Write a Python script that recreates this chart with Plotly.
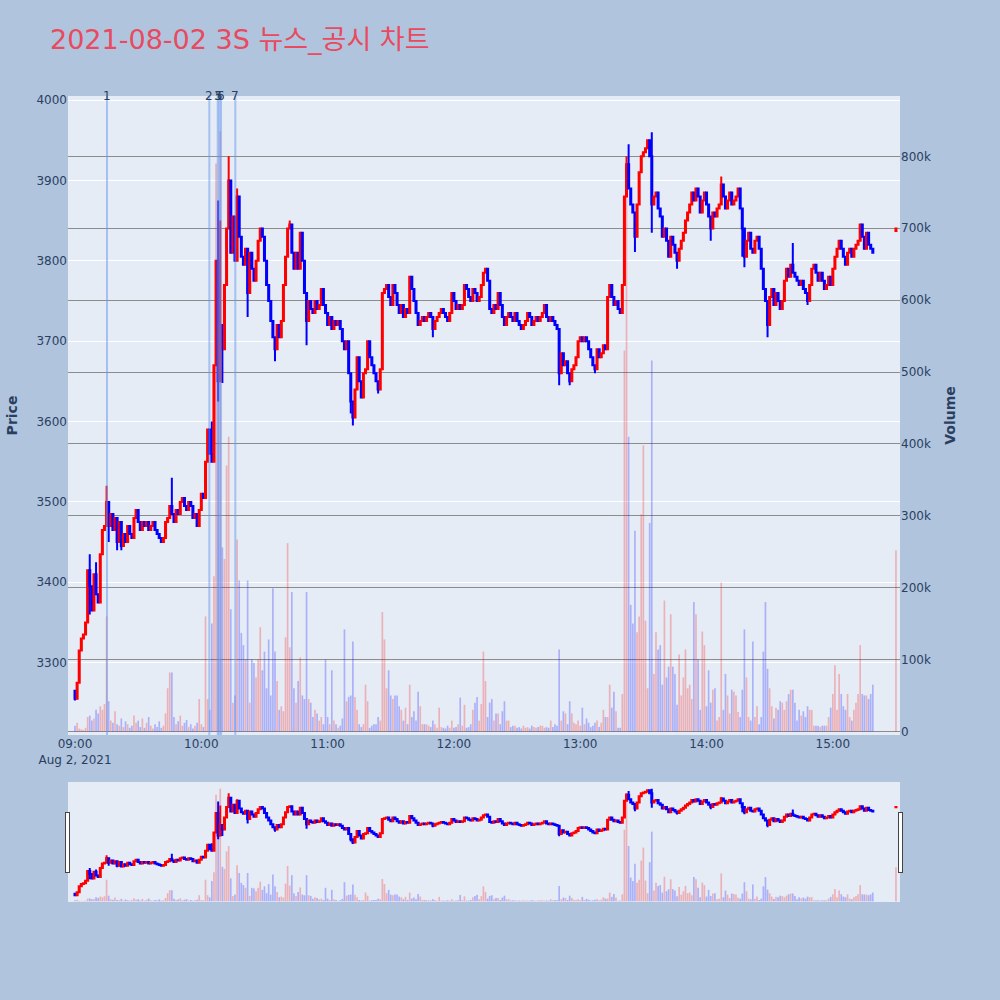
import pandas as pd
import plotly.graph_objects as go

# ---------------- data ----------------
session_date = "2021-08-02"
first_open = 3265

# 1-minute closes, 09:00 .. 15:19
close = [
    3255, 3275, 3315, 3330, 3335, 3350, 3415, 3395, 3365, 3410,
    3385, 3375, 3435, 3465, 3470, 3500, 3470, 3485, 3465, 3480,
    3450, 3475, 3445, 3460, 3450, 3470, 3460, 3455, 3480, 3490,
    3475, 3465, 3475, 3470, 3475, 3465, 3470, 3475, 3465, 3460,
    3455, 3450, 3455, 3475, 3480, 3495, 3485, 3475, 3490, 3485,
    3500, 3505, 3495, 3490, 3500, 3495, 3480, 3485, 3470, 3490,
    3510, 3505, 3550, 3590, 3560, 3550, 3670, 3800, 3650, 3720,
    3690, 3770, 3840, 3900, 3810, 3855, 3800, 3880, 3830, 3805,
    3795, 3815, 3760, 3810, 3790, 3775, 3800, 3825, 3840, 3830,
    3800, 3770, 3750, 3725, 3705, 3690, 3720, 3705, 3725, 3770,
    3805, 3840, 3845, 3810, 3790, 3810, 3790, 3835, 3800, 3760,
    3725, 3750, 3740, 3735, 3750, 3740, 3745, 3765, 3745, 3735,
    3720, 3730, 3715, 3725, 3720, 3725, 3715, 3700, 3690, 3700,
    3660, 3625, 3605, 3640, 3680, 3650, 3630, 3660, 3665, 3700,
    3680, 3670, 3660, 3650, 3640, 3665, 3760, 3765, 3770, 3755,
    3745, 3770, 3760, 3745, 3735, 3745, 3730, 3740, 3735, 3780,
    3765, 3750, 3735, 3720, 3725, 3730, 3725, 3730, 3735, 3730,
    3715, 3725, 3730, 3735, 3740, 3735, 3730, 3725, 3735, 3760,
    3750, 3740, 3745, 3740, 3745, 3770, 3765, 3755, 3750, 3765,
    3760, 3750, 3755, 3770, 3785, 3790, 3775, 3740, 3735, 3745,
    3740, 3760, 3745, 3730, 3720, 3730, 3735, 3730, 3725, 3735,
    3725, 3720, 3715, 3720, 3725, 3735, 3730, 3720, 3725, 3730,
    3725, 3730, 3735, 3745, 3730, 3725, 3730, 3725, 3720, 3715,
    3660, 3685, 3670, 3675, 3660, 3650, 3665, 3670, 3680, 3700,
    3705, 3700, 3705, 3700, 3690, 3680, 3670, 3665, 3690, 3680,
    3685, 3695, 3690, 3755, 3770, 3755, 3745, 3750, 3740, 3735,
    3770, 3880, 3920, 3890, 3870, 3860, 3830, 3870, 3910, 3930,
    3935, 3940, 3950, 3930, 3870, 3880, 3885, 3865, 3855, 3830,
    3840, 3825, 3805, 3830, 3820, 3810, 3800, 3815, 3825, 3835,
    3850, 3860, 3870, 3885, 3875, 3890, 3880, 3860, 3875, 3885,
    3870, 3855, 3840, 3860, 3855, 3865, 3870, 3895, 3880, 3865,
    3875, 3885, 3870, 3875, 3880, 3890, 3865, 3840, 3805, 3825,
    3835, 3815, 3810, 3825, 3830, 3815, 3790, 3765, 3750, 3720,
    3755, 3765, 3745, 3760, 3750, 3740, 3750, 3775, 3790, 3780,
    3795, 3785, 3780, 3775, 3770, 3775, 3765, 3760, 3750, 3770,
    3790, 3795, 3785, 3775, 3785, 3775, 3765, 3770, 3780, 3770,
    3790, 3805, 3815, 3825, 3815, 3805, 3795, 3810, 3815, 3805,
    3815, 3820, 3825, 3845, 3830, 3815, 3835, 3820, 3815, 3810,
]

# 1-minute volume in thousands of shares, 09:00 .. 15:19
volume_k = [
    8, 12, 4, 3, 2, 5, 20, 22, 15, 18,
    30, 25, 35, 30, 38, 160, 42, 15, 12, 28,
    10, 8, 18, 6, 14, 10, 5, 8, 22, 12,
    15, 6, 18, 5, 12, 20, 8, 4, 10, 6,
    14, 5, 8, 25, 60, 82, 82, 20, 10, 14,
    22, 8, 12, 16, 6, 10, 4, 8, 12, 45,
    10, 6, 160, 45, 30, 150, 216, 790, 520, 835,
    256, 240, 370, 410, 170, 40, 50, 267, 210, 137,
    120, 100, 210, 40, 100, 95, 75, 100, 145, 85,
    111, 60, 128, 50, 199, 111, 70, 30, 35, 28,
    131, 262, 117, 194, 60, 40, 70, 103, 50, 45,
    194, 45, 40, 20, 30, 25, 15, 20, 10, 100,
    20, 10, 85, 15, 10, 5, 8, 18, 142, 42,
    48, 50, 125, 48, 30, 10, 6, 10, 65, 42,
    5, 8, 10, 10, 20, 15, 166, 128, 60, 85,
    50, 45, 50, 50, 35, 30, 15, 33, 10, 65,
    20, 28, 15, 55, 35, 10, 10, 10, 8, 6,
    15, 10, 5, 33, 6, 5, 4, 8, 5, 15,
    5, 6, 10, 47, 8, 37, 5, 6, 10, 30,
    40, 48, 15, 38, 111, 70, 20, 40, 45, 15,
    25, 25, 10, 28, 42, 15, 15, 6, 8, 8,
    5, 6, 4, 8, 5, 6, 4, 8, 6, 5,
    6, 8, 8, 5, 6, 5, 15, 6, 10, 8,
    114, 15, 28, 25, 10, 42, 25, 12, 10, 15,
    8, 33, 10, 18, 12, 6, 8, 12, 15, 6,
    12, 30, 20, 20, 65, 33, 55, 28, 5, 5,
    52, 530, 760, 410, 176, 150, 279, 138, 160, 302,
    398, 154, 60, 290, 516, 80, 138, 114, 120, 65,
    182, 75, 90, 163, 90, 80, 37, 107, 50, 75,
    114, 60, 65, 45, 180, 163, 100, 30, 139, 120,
    35, 85, 40, 58, 60, 15, 20, 207, 30, 80,
    50, 25, 58, 55, 50, 27, 20, 58, 142, 75,
    20, 15, 125, 20, 35, 10, 20, 111, 180, 87,
    60, 35, 18, 33, 30, 42, 40, 30, 42, 52,
    58, 58, 40, 15, 30, 22, 28, 20, 35, 30,
    30, 8, 8, 8, 6, 8, 8, 8, 20, 33,
    52, 92, 30, 80, 52, 35, 30, 52, 20, 15,
    30, 40, 52, 120, 52, 50, 50, 45, 52, 65,
]

# notable wick extremes (minute index -> price)
wick_high = {7: 3435, 10: 3425, 15: 3520, 46: 3530, 65: 3600, 68: 3875, 69: 3850,
             73: 3930, 77: 3890, 102: 3850, 262: 3930, 263: 3945, 274: 3960,
             307: 3905, 341: 3822}
wick_low = {0: 3253, 7: 3360, 16: 3450, 20: 3440, 22: 3440, 68: 3625, 70: 3648,
            82: 3730, 95: 3675, 110: 3695, 131: 3610, 132: 3595, 144: 3635,
            170: 3705, 230: 3645, 235: 3645, 247: 3660, 266: 3811, 274: 3835,
            286: 3790, 302: 3825, 317: 3805, 318: 3792, 329: 3705, 348: 3745}

# closing auction print
auction_time = "2021-08-02 15:30"
auction_open, auction_close, auction_volume_k = 3837, 3840, 252

# news / disclosure markers
news_labels = ["1", "2", "3", "5", "6", "7"]
news_times = ["2021-08-02 09:15:12", "2021-08-02 10:03:48", "2021-08-02 10:07:48",
              "2021-08-02 10:08:33", "2021-08-02 10:09:22", "2021-08-02 10:16:09"]

assert len(close) == 380 and len(volume_k) == 380

# ---------------- build series ----------------
times = list(pd.date_range(session_date + " 09:00", periods=len(close), freq="min")) + [pd.Timestamp(auction_time)]
opens = [first_open] + close[:-1] + [auction_open]
closes = close + [auction_close]
highs = [max(o, c, wick_high.get(i, 0)) for i, (o, c) in enumerate(zip(opens, closes))]
lows = [min(o, c, wick_low.get(i, 10 ** 6)) for i, (o, c) in enumerate(zip(opens, closes))]
volumes = [v * 1000 for v in volume_k + [auction_volume_k]]
bar_colors = ["rgba(255,0,0,0.25)" if c >= o else "rgba(0,0,255,0.25)" for o, c in zip(opens, closes)]

fig = go.Figure()
fig.add_trace(go.Bar(x=times, y=volumes, marker=dict(color=bar_colors, line=dict(width=0)),
                     yaxis="y", name="Volume", showlegend=False))
fig.add_trace(go.Candlestick(x=times, open=opens, high=highs, low=lows, close=closes,
                             increasing=dict(line=dict(color="red", width=2), fillcolor="red"),
                             decreasing=dict(line=dict(color="blue", width=2), fillcolor="blue"),
                             yaxis="y2", name="Price", showlegend=False))

x_range = ["2021-08-02 08:56:40", "2021-08-02 15:31:55"]

shapes, annots = [], []
for lab, t in zip(news_labels, news_times):
    shapes.append(dict(type="line", xref="x", yref="paper", x0=t, x1=t, y0=0, y1=1,
                       line=dict(color="rgba(100,149,237,0.5)", width=2)))
    annots.append(dict(x=t, y=1, xref="x", yref="paper", text=lab, showarrow=False,
                       yanchor="middle", font=dict(size=12, color="#2a3f5f")))

fig.update_layout(
    width=1000, height=1000,
    paper_bgcolor="#B0C4DE",
    plot_bgcolor="#E5ECF6",
    font=dict(family="DejaVu Sans, Noto Sans CJK KR, sans-serif", size=12, color="#2a3f5f"),
    title=dict(text="2021-08-02 3S 뉴스_공시 차트", x=0.05, xanchor="left", y=0.96, yanchor="middle",
               font=dict(size=27, color="#E84A5F", family="DejaVu Sans, Noto Sans CJK KR, sans-serif")),
    margin=dict(l=68, r=100, t=96, b=98),
    showlegend=False,
    bargap=0.2,
    shapes=shapes,
    annotations=annots,
    xaxis=dict(type="date", range=x_range, showgrid=False, zeroline=False,
               rangeslider=dict(visible=True, thickness=0.149, bgcolor="#E5ECF6", range=x_range)),
    yaxis=dict(side="right", range=[-5000, 884000], title=dict(text="<b>Volume</b>", font=dict(size=14)),
               showgrid=True, gridcolor="#8c8c8c", gridwidth=1, zeroline=False,
               tickvals=[0, 100000, 200000, 300000, 400000, 500000, 600000, 700000, 800000],
               ticktext=["0", "100k", "200k", "300k", "400k", "500k", "600k", "700k", "800k"]),
    yaxis2=dict(side="left", overlaying="y", range=[3210, 4005],
                title=dict(text="<b>Price</b>", font=dict(size=14)),
                showgrid=True, gridcolor="white", gridwidth=1, zeroline=False),
)

fig.write_html("out.html", config={"displayModeBar": False},
               post_script="document.body.style.margin='0';")
